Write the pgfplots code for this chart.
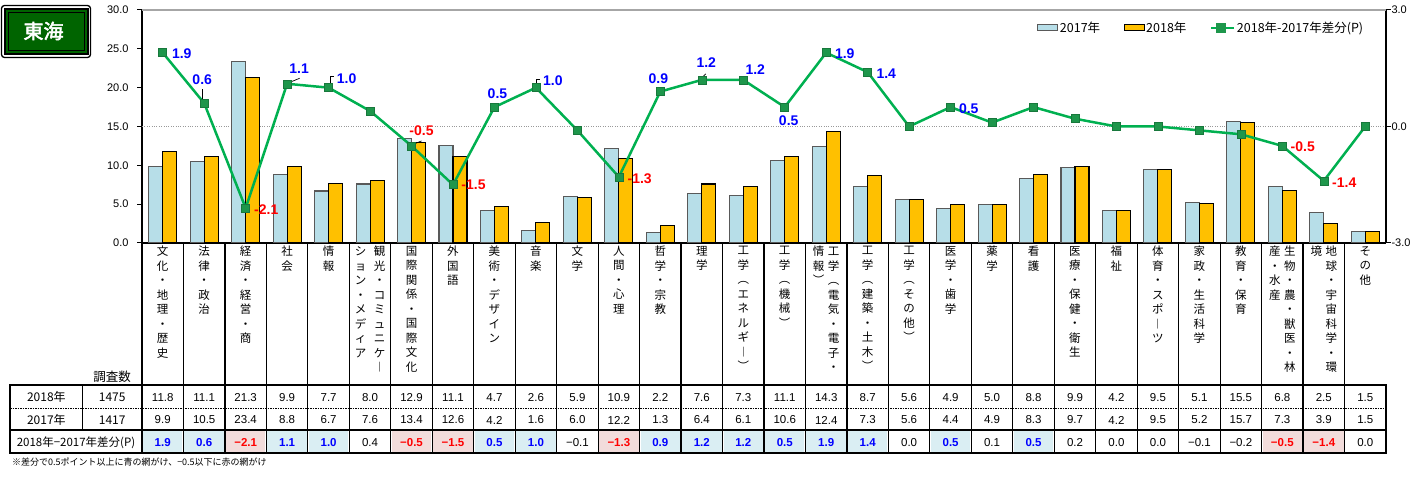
\documentclass[border=0pt]{standalone}
\usepackage{pgfplots}
\pgfplotsset{compat=1.18}
\usepackage{pgfplotstable}
\usepackage{fontspec}
\setmainfont{Liberation Sans}
\newfontfamily\cjk[AutoFakeBold=2.5]{Noto Sans CJK JP}

\definecolor{c17}{RGB}{183,222,232}
\definecolor{c17e}{RGB}{89,89,89}
\definecolor{c18}{RGB}{255,192,0}
\definecolor{lgreen}{RGB}{0,176,80}
\definecolor{mgreen}{RGB}{30,150,75}
\definecolor{lblue}{RGB}{0,0,255}
\definecolor{lred}{RGB}{255,0,0}
\definecolor{cellb}{RGB}{218,238,243}
\definecolor{cellr}{RGB}{242,220,219}
\definecolor{tgreen}{RGB}{0,100,0}

% vertical (stacked) tick labels
\def\vcolA#1{\ifx\relax#1\else\hbox to 14pt{\hss#1\hss}\expandafter\vcolA\fi}
\newcommand\vcol[1]{\vtop{\baselineskip=14.5pt\lineskiplimit=-\maxdimen\vcolA#1\relax}}
\newcommand\vtwo[3][1pt]{\hbox{\vcol{#2}\kern#1\vcol{#3}}}
\def\showd#1{\if-#1−\else#1\fi}

% i, 2018, 2017, diff (points)
\pgfplotstableread{
i v18 v17 d
0 11.8 9.9 1.9
1 11.1 10.5 0.6
2 21.3 23.4 -2.1
3 9.9 8.8 1.1
4 7.7 6.7 1.0
5 8.0 7.6 0.4
6 12.9 13.4 -0.5
7 11.1 12.6 -1.5
8 4.7 4.2 0.5
9 2.6 1.6 1.0
10 5.9 6.0 -0.1
11 10.9 12.2 -1.3
12 2.2 1.3 0.9
13 7.6 6.4 1.2
14 7.3 6.1 1.2
15 11.1 10.6 0.5
16 14.3 12.4 1.9
17 8.7 7.3 1.4
18 5.6 5.6 0.0
19 4.9 4.4 0.5
20 5.0 4.9 0.1
21 8.8 8.3 0.5
22 9.9 9.7 0.2
23 4.2 4.2 0.0
24 9.5 9.5 0.0
25 5.1 5.2 -0.1
26 15.5 15.7 -0.2
27 6.8 7.3 -0.5
28 2.5 3.9 -1.4
29 1.5 1.5 0.0
}\data

% labels on the line: offset of label centre from marker (pt)
\pgfplotstableread{
i d dx dy
0 1.9 19 -1
1 0.6 -2 24
3 1.1 12 15
4 1.0 18 9
8 0.5 3 13
9 1.0 17 7
12 0.9 -2 13
13 1.2 4.5 17.5
14 1.2 12 10.5
15 0.5 4 -14
16 1.9 18.6 -0.6
17 1.4 18.6 -1.2
19 0.5 18.2 -1.2
}\lblB
\pgfplotstableread{
i d dx dy
2 -2.1 20.6 -2
6 -0.5 10 15
7 -1.5 20.5 0
11 -1.3 20.8 -1.7
27 -0.5 20.4 -0.8
28 -1.4 20.5 -1.4
}\lblR

\pgfplotsset{
  common/.style={
    at={(142pt,235pt)}, anchor=south west,
    scale only axis, width=1244pt, height=233pt,
    xmin=-0.5, xmax=29.5,
    tick align=outside, major tick length=5pt,
    axis line style={line width=1.3pt},
    tick style={black, line width=1pt},
    ticklabel style={font=\fontsize{11}{13}\selectfont},
    yticklabel style={/pgf/number format/fixed, /pgf/number format/fixed zerofill,
      /pgf/number format/precision=1, /pgf/number format/assume math mode=true},
  },
  lbl/.style={
    draw=none, mark=none, forget plot, point meta=explicit symbolic,
    nodes near coords,
    visualization depends on={\thisrow{dx}\as\ldx},
    visualization depends on={\thisrow{dy}\as\ldy},
    nodes near coords style={text=#1, font=\bfseries\fontsize{14}{16}\selectfont,
      anchor=center, inner sep=0pt, xshift=\ldx pt, yshift=\ldy pt},
  },
}

\begin{document}
\begin{tikzpicture}[x=1pt,y=1pt]
\useasboundingbox (0,0) rectangle (1411,478);

\begin{axis}[common,
  ymin=0, ymax=30, ytick={0,5,...,30},
  axis x line*=bottom, axis y line*=left,
  yticklabel style={xshift=-5pt},
  extra y ticks={15}, extra y tick labels={},
  extra y tick style={grid=major, major grid style={gray!80, dotted, line width=0.8pt}},
  xtick={0,...,29}, xtick style={draw=none},
  xticklabel style={font=\cjk\fontsize{11.5}{14}\selectfont, anchor=north, inner sep=0pt, yshift=2pt},
  xticklabels={
    {\vcol{文化・地理・歴史}},
    {\vcol{法律・政治}},
    {\vcol{経済・経営・商}},
    {\vcol{社会}},
    {\vcol{情報}},
    {\vtwo[5pt]{ション・メディア}{観光・コミュニケ︱}},
    {\vcol{国際関係・国際文化}},
    {\vcol{外国語}},
    {\vcol{美術・デザイン}},
    {\vcol{音楽}},
    {\vcol{文学}},
    {\vcol{人間・心理}},
    {\vcol{哲学・宗教}},
    {\vcol{理学}},
    {\vcol{工学︵エネルギ︱︶}},
    {\vcol{工学︵機械︶}},
    {\vtwo{情報︶}{工学︵電気・電子・}},
    {\vcol{工学︵建築・土木︶}},
    {\vcol{工学︵その他︶}},
    {\vcol{医学・歯学}},
    {\vcol{薬学}},
    {\vcol{看護}},
    {\vcol{医療・保健・衛生}},
    {\vcol{福祉}},
    {\vcol{体育・スポ︱ツ}},
    {\vcol{家政・生活科学}},
    {\vcol{教育・保育}},
    {\vtwo{産・水産}{生物・農・獣医・林}},
    {\vtwo{境}{地球・宇宙科学・環}},
    {\vcol{その他}}},
]
\addplot[ybar, bar width=14pt, bar shift=-7pt, fill=c17, draw=c17e, line width=1.1pt]
  table[x=i, y=v17]{\data};
\addplot[ybar, bar width=14pt, bar shift=7pt, fill=c18, draw=black, line width=1.1pt]
  table[x=i, y=v18]{\data};
\end{axis}

\begin{axis}[common,
  ymin=-3, ymax=3, ytick={-3,0,3},
  hide x axis, axis y line*=right,
  yticklabel style={xshift=-3pt},
  clip=false,
  legend style={draw=none, fill=none, at={(0.983,0.923)}, anchor=east,
    font=\cjk\fontsize{12.5}{14}\selectfont, legend columns=3,
    /tikz/every even column/.append style={column sep=22pt},
    inner sep=0pt, nodes={inner sep=1.5pt}},
]
\addlegendimage{legend image code/.code={\draw[fill=c17, draw=c17e, line width=1pt] (0pt,-3pt) rectangle (20pt,3pt);}}
\addlegendentry{2017年}
\addlegendimage{legend image code/.code={\draw[fill=c18, draw=black, line width=1pt] (0pt,-3pt) rectangle (20pt,3pt);}}
\addlegendentry{2018年}
% leader lines
\draw[line width=0.7pt] ([xshift=-1.5pt,yshift=4pt]axis cs:1,0.6) -- ([xshift=-1.5pt,yshift=14pt]axis cs:1,0.6);
\draw[line width=0.7pt] ([xshift=4pt,yshift=2pt]axis cs:3,1.1) -- ([xshift=12.5pt,yshift=5.5pt]axis cs:3,1.1);
\draw[line width=0.7pt] ([xshift=1.4pt,yshift=4pt]axis cs:4,1.0) -- ([xshift=1.4pt,yshift=11pt]axis cs:4,1.0) -- ([xshift=5.7pt,yshift=11pt]axis cs:4,1.0);
\draw[line width=0.7pt] ([xshift=4pt,yshift=2.5pt]axis cs:6,-0.5) -- ([xshift=10pt,yshift=5pt]axis cs:6,-0.5);
\draw[line width=0.7pt] ([xshift=0pt,yshift=4pt]axis cs:9,1.0) -- ([xshift=0pt,yshift=8.5pt]axis cs:9,1.0) -- ([xshift=4.5pt,yshift=8.5pt]axis cs:9,1.0);
\draw[line width=0.7pt] ([xshift=1pt,yshift=3pt]axis cs:13,1.2) -- ([xshift=4pt,yshift=6pt]axis cs:13,1.2);
\addplot[lgreen, line width=2.5pt, mark=square*, mark size=4pt,
  mark options={fill=mgreen, draw=mgreen!80!black, line width=0.5pt},
  legend image code/.code={\draw[lgreen, line width=2.5pt] (0pt,0pt) -- (23pt,0pt);
    \fill[mgreen] (6pt,-4pt) rectangle (14pt,4pt);}]
  table[x=i, y=d]{\data};
\addlegendentry{2018年-2017年差分(P)}
\addplot[lbl=lblue] table[x=i, y=d, meta=d]{\lblB};
\addplot[lbl=lred] table[x=i, y=d, meta=d]{\lblR};
\end{axis}

% top border of plot area
\draw[gray!70, line width=2pt] (142,468) -- (1386,468);
\node[anchor=base, font=\cjk\fontsize{11}{13}\selectfont] at (140,480.5) {(\%)};
\node[anchor=base, font=\cjk\fontsize{11}{13}\selectfont] at (1378,480.5) {(P)};

% title box
\draw[line width=1.3pt, rounded corners=3pt] (1.5,420.5) rectangle (90.5,472.5);
\fill[black] (3.5,423) rectangle (88.5,470);
\fill[tgreen] (5.5,425) rectangle (86.5,468);
\draw[black, line width=0.6pt] (8,427.5) rectangle (84,465.5);
\node[text=white, font=\cjk\bfseries\fontsize{20}{22}\selectfont] at (43.5,447) {東海};

% table: coloured diff cells and values
\foreach \k in {0,...,29}{
  \pgfplotstablegetelem{\k}{d}\of\data \let\dv\pgfplotsretval
  \pgfmathtruncatemacro\cls{(\dv>=0.5)?1:((\dv<=-0.5)?2:0)}
  \ifcase\cls \def\fc{white}\def\tc{black}\def\fs{}\or
    \def\fc{cellb}\def\tc{lblue}\def\fs{\bfseries}\or
    \def\fc{cellr}\def\tc{lred}\def\fs{\bfseries}\fi
  \fill[fill=\fc] ({142+41.4667*\k+1},26) rectangle ({142+41.4667*(\k+1)-1},47);
  \node[text=\tc, font=\fs\fontsize{11.5}{13}\selectfont] at ({142+41.4667*(\k+0.5)},35.3) {\expandafter\showd\dv};
  \pgfplotstablegetelem{\k}{v18}\of\data
  \node[font=\fontsize{11.5}{13}\selectfont] at ({142+41.4667*(\k+0.5)},80.7) {\pgfplotsretval};
  \pgfplotstablegetelem{\k}{v17}\of\data
  \node[font=\fontsize{11.5}{13}\selectfont] at ({142+41.4667*(\k+0.5)},58) {\pgfplotsretval};
}

% separators under the axis and through the table
\foreach \k in {0,...,29}
  \draw[line width=1.2pt] ({142+41.4667*\k},235) -- ({142+41.4667*\k},25);
\draw[line width=1.2pt] (82.7,93) -- (82.7,48);
\draw[line width=1.5pt, densely dotted] (10,69.7) -- (1386,69.7);
\draw[line width=1.8pt] (10,48) -- (1386,48);
\draw[line width=2pt] (10,25) rectangle (1386,93);

% row headers
\begin{scope}[font=\cjk\fontsize{12}{14}\selectfont]
\node at (112,101) {\fontsize{12.5}{14}\selectfont 調査数};
\node at (46.4,80.7) {2018年};
\node at (112.2,80.7) {1475};
\node at (46.4,58) {2017年};
\node at (112.2,58) {1417};
\node at (76,35.3) {\fontsize{11.5}{13}\selectfont 2018年−2017年差分(P)};
\end{scope}
\node[anchor=west, inner sep=0pt, font=\cjk\fontsize{9}{10}\selectfont] at (12,16.3)
  {※差分で0.5ポイント以上に青の網がけ、−0.5以下に赤の網がけ};
\end{tikzpicture}
\end{document}
